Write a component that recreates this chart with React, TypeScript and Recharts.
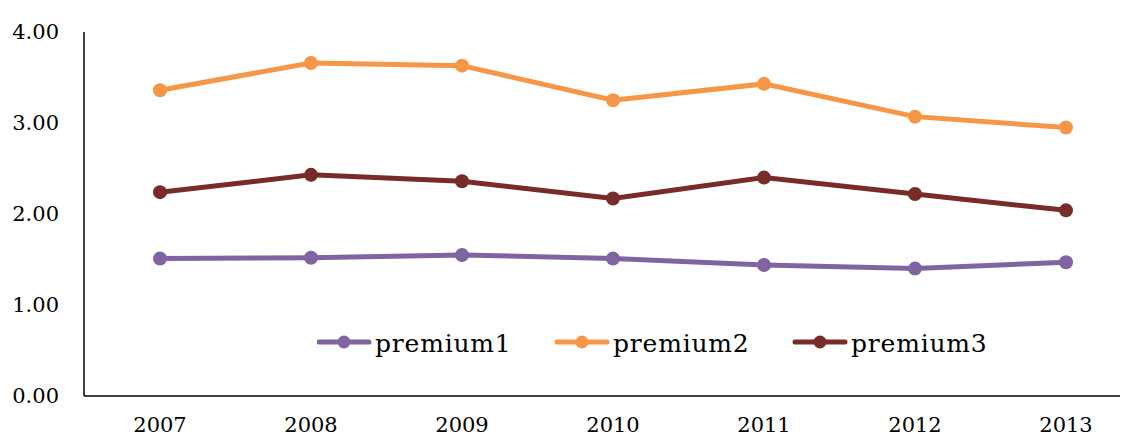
import React from "react";
import { LineChart, Line, XAxis, YAxis, Legend } from "recharts";

const years = ["2007", "2008", "2009", "2010", "2011", "2012", "2013"];
const premium1 = [1.51, 1.52, 1.55, 1.51, 1.44, 1.40, 1.47];
const premium2 = [3.36, 3.66, 3.63, 3.25, 3.43, 3.07, 2.95];
const premium3 = [2.24, 2.43, 2.36, 2.17, 2.40, 2.22, 2.04];
const yTicks = [0, 1, 2, 3, 4];

const seriesNames = ["premium1", "premium2", "premium3"];
const seriesColors = ["#8064A2", "#F79646", "#772C2A"];

const data = years.map((y, i) => ({
  year: y,
  premium1: premium1[i],
  premium2: premium2[i],
  premium3: premium3[i],
}));

const FONT = "'DejaVu Serif', serif";

const renderLegend = (props: any) => {
  const payload = props.payload || [];
  return (
    <svg width={720} height={44} style={{ display: "block" }}>
      {payload.map((p: any, i: number) => {
        const x0 = i * 238;
        return (
          <g key={i}>
            <line x1={x0 + 2} x2={x0 + 52} y1={20} y2={20} stroke={p.color} strokeWidth={5} strokeLinecap="round" />
            <circle cx={x0 + 27} cy={20} r={6.5} fill={p.color} />
            <text x={x0 + 58} y={29.5} fontFamily={FONT} fontSize={25} letterSpacing={0.8} fill="#000">
              {p.value}
            </text>
          </g>
        );
      })}
    </svg>
  );
};

export default function App() {
  return (
    <LineChart
      width={1120}
      height={429}
      data={data}
      margin={{ top: 24, right: 0, bottom: 0, left: 0 }}
    >
      <XAxis
        dataKey="year"
        height={41}
        padding={{ left: 76, right: 62 }}
        axisLine={{ stroke: "#000", strokeWidth: 1.5 }}
        tickLine={false}
        tickSize={0}
        tickMargin={21}
        tick={{ fill: "#000", fontSize: 21, fontFamily: FONT }}
        interval={0}
      />
      <YAxis
        width={76}
        domain={[0, 4]}
        ticks={yTicks}
        interval={0}
        axisLine={{ stroke: "#000", strokeWidth: 1.5 }}
        tickLine={false}
        tickSize={0}
        tickMargin={25}
        tickFormatter={(v: number) => v.toFixed(2)}
        tick={{ fill: "#000", fontSize: 21, fontFamily: FONT }}
      />
      <Legend
        layout="horizontal"
        verticalAlign="middle"
        align="center"
        content={renderLegend}
        wrapperStyle={{ top: 314, left: 309, width: 720, height: 44 }}
      />
      {seriesNames.map((name, i) => (
        <Line
          key={name}
          dataKey={name}
          name={name}
          stroke={seriesColors[i]}
          strokeWidth={5}
          dot={{ r: 7, fill: seriesColors[i], stroke: "none" }}
          activeDot={false}
          isAnimationActive={false}
        />
      ))}
    </LineChart>
  );
}
